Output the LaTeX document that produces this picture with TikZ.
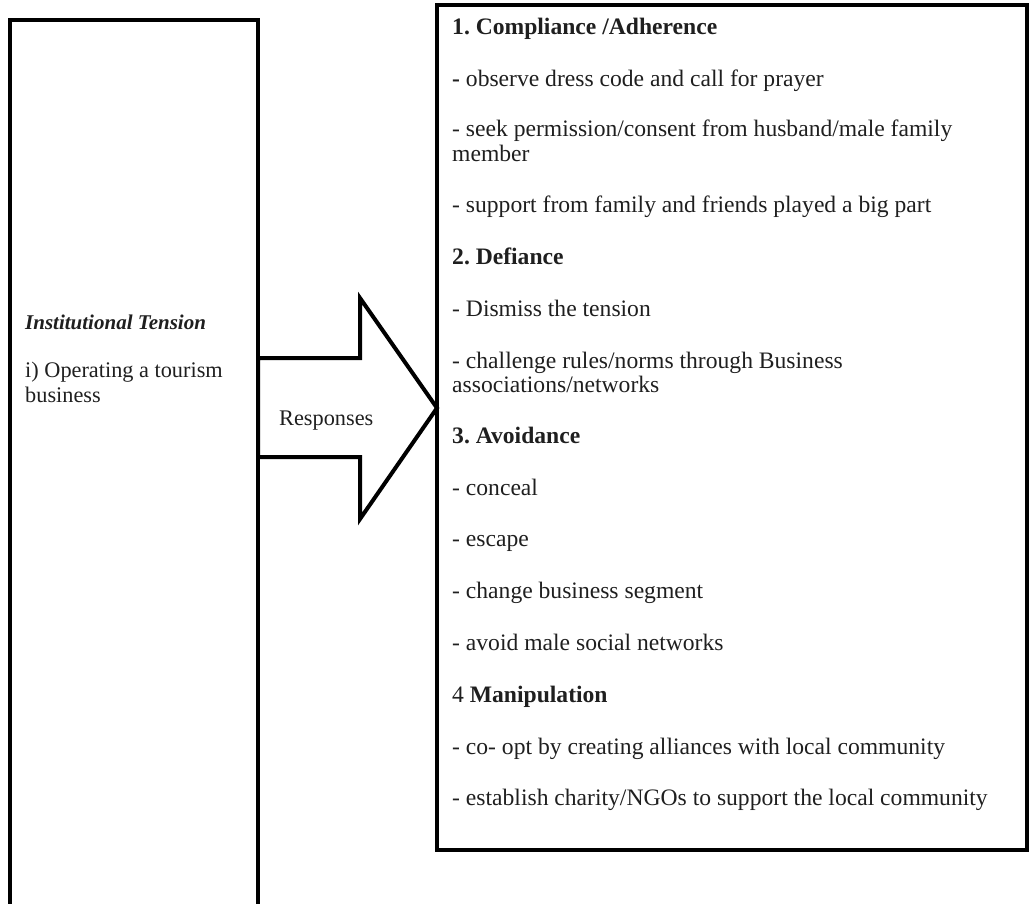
\documentclass[tikz,border=0pt]{standalone}
\usepackage{fontspec}
\setmainfont{Liberation Serif}
\frenchspacing
\begin{document}
\begin{tikzpicture}[x=1pt,y=-1pt,
  box/.style={draw, line width=4pt, outer sep=0pt, inner sep=0pt, anchor=north west},
  txt/.style={anchor=base west, inner sep=0pt, font=\fontsize{23.6}{26}\selectfont, text=black!88},
  lefttxt/.style={txt, font=\fontsize{22.3}{26}\selectfont},
  head/.style={txt, font=\fontsize{23.6}{26}\selectfont\bfseries}]
\useasboundingbox (0,0) rectangle (1034,903);

% left box: the tension (runs past the lower edge)
\node[box, minimum width=248pt, minimum height=900pt] (tension) at (10,20) {};
% right box: the responses
\node[box, line width=3.6pt, minimum width=590pt, minimum height=845pt] (resp) at (437,5) {};

% block arrow between the two boxes
\coordinate (tail) at (tension.east |- 0,408);
\coordinate (tip)  at (resp.west  |- 0,408);
\draw[line width=4pt, line join=miter, fill=white]
  (tail) ++(0,-50) -- ++(102,0) -- ++(0,-60) -- (tip) -- ++(-77,111)
  -- ++(0,-62) -- ++(-102,0) -- cycle;
\node[lefttxt] (lbl) at (279,425) {Responses};

% tension text
\node[txt, font=\fontsize{21}{26}\selectfont\bfseries\itshape] (t1) at (25,329) {Institutional Tension};
\node[lefttxt] (t2) at (25,377) {i) Operating a tourism};
\node[lefttxt] (t3) at (25,402) {business};

% response text
\node[head] (r1)  at (452,34)  {1. Compliance /Adherence};
\node[txt]  (r2)  at (452,86)  {\textbf{-} observe dress code and call for prayer};
\node[txt]  (r3)  at (452,136) {- seek permission/consent from husband/male family};
\node[txt]  (r4)  at (452,161) {member};
\node[txt]  (r5)  at (452,212) {- support from family and friends played a big part};
\node[head] (r6)  at (452,264) {2. Defiance};
\node[txt]  (r7)  at (452,316) {- Dismiss the tension};
\node[txt]  (r8)  at (452,368) {- challenge rules/norms through Business};
\node[txt]  (r9)  at (452,392) {associations/networks};
\node[head] (r10) at (452,443) {3. Avoidance};
\node[txt]  (r11) at (452,495) {- conceal};
\node[txt]  (r12) at (452,546) {- escape};
\node[txt]  (r13) at (452,598) {- change business segment};
\node[txt]  (r14) at (452,650) {- avoid male social networks};
\node[txt]  (r15) at (452,702) {4 \textbf{Manipulation}};
\node[txt]  (r16) at (452,754) {- co- opt by creating alliances with local community};
\node[txt]  (r17) at (452,805) {- establish charity/NGOs to support the local community};
\end{tikzpicture}
\end{document}
